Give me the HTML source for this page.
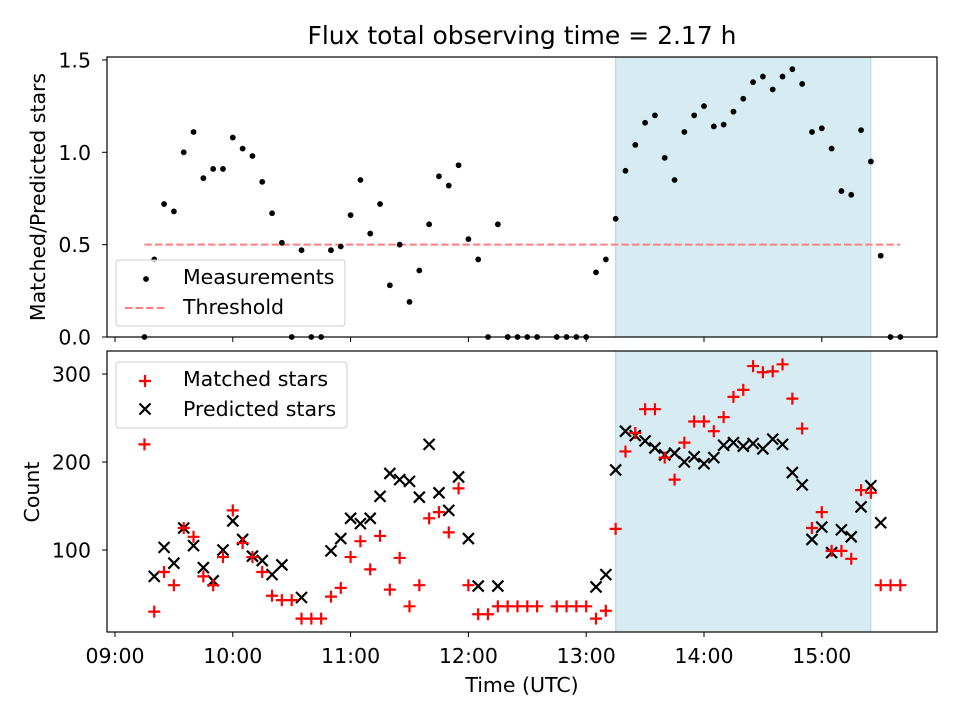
<!DOCTYPE html>
<html><head><meta charset="utf-8"><style>
body{margin:0;background:#fff;}
svg{display:block;font-family:"DejaVu Sans","Liberation Sans",sans-serif;}
</style></head><body>
<svg id="chart" width="960" height="720" viewBox="0 0 960 720">
<rect width="960" height="720" fill="#fff"/>
</svg>
<script>
const times = ["09:15","09:20","09:25","09:30","09:35","09:40","09:45","09:50","09:55","10:00","10:05","10:10","10:15","10:20","10:25","10:30","10:35","10:40","10:45","10:50","10:55","11:00","11:05","11:10","11:15","11:20","11:25","11:30","11:35","11:40","11:45","11:50","11:55","12:00","12:05","12:10","12:15","12:20","12:25","12:30","12:35","12:40","12:45","12:50","12:55","13:00","13:05","13:10","13:15","13:20","13:25","13:30","13:35","13:40","13:45","13:50","13:55","14:00","14:05","14:10","14:15","14:20","14:25","14:30","14:35","14:40","14:45","14:50","14:55","15:00","15:05","15:10","15:15","15:20","15:25","15:30","15:35","15:40"];
const ratio = [0,0.42,0.72,0.68,1.0,1.11,0.86,0.91,0.91,1.08,1.02,0.98,0.84,0.67,0.51,0,0.47,0,0,0.47,0.49,0.66,0.85,0.56,0.72,0.28,0.50,0.19,0.36,0.61,0.87,0.82,0.93,0.53,0.42,0,0.61,0,0,0,0,null,0,0,0,0,0.35,0.42,0.64,0.9,1.04,1.16,1.2,0.97,0.85,1.11,1.2,1.25,1.14,1.15,1.22,1.29,1.38,1.41,1.34,1.41,1.45,1.37,1.11,1.13,1.02,0.79,0.77,1.12,0.95,0.44,0,0];
const matched = [220,30,75,60,125,115,70,60,92,145,108,92,75,48,43,43,22,22,22,47,57,92,110,78,116,55,91,36,60,136,143,120,170,60,27,27,36,36,36,36,36,null,36,36,36,36,22,31,124,212,233,260,260,205,180,222,246,246,235,251,274,282,309,302,303,311,272,238,125,143,99,99,90,168,165,60,60,60];
const predicted = [null,70,103,85,125,105,80,65,100,133,112,93,88,72,83,null,46,null,null,99,113,136,130,136,161,187,180,178,160,220,165,145,183,113,59,null,59,null,null,null,null,null,null,null,null,null,58,72,191,235,230,224,216,208,210,200,206,198,205,219,222,218,221,215,226,220,188,174,112,126,97,123,115,149,173,131,null,null];
const threshold = 0.5;
const windowStart = "13:15", windowEnd = "15:25";
const xTicks = ["09:00","10:00","11:00","12:00","13:00","14:00","15:00"];
const ratioTicks = [0,0.5,1.0,1.5];
const countTicks = [100,200,300];

const NS="http://www.w3.org/2000/svg";
const svg=document.getElementById('chart');
const FS=20.5;
function mk(tag,attrs,parent){const e=document.createElementNS(NS,tag);for(const k in attrs)e.setAttribute(k,attrs[k]);(parent||svg).appendChild(e);return e;}
function hrs(s){const p=s.split(':');return +p[0]+ +p[1]/60;}
const X0=107,X1=937;
function xs(t){return 115+(hrs(t)-9)*117.8;}
function yTop(v){return 337-v*184.7;}
function yBot(v){return 638-v*0.88;}

let t=mk('text',{x:522,y:44,'text-anchor':'middle','font-size':25,fill:'#000'});t.textContent='Flux total observing time = 2.17 h';


function panel(top,bot,name){
  const g=mk('g',{});
  
  
  const sh=mk('rect',{x:xs(windowStart),y:top,width:xs(windowEnd)-xs(windowStart),height:bot-top,fill:'#add8e6','fill-opacity':0.5,stroke:'#add8e6','stroke-width':1},g);
  
  return g;
}
function frame(top,bot,name){
  const r=mk('rect',{x:X0,y:top,width:X1-X0,height:bot-top,fill:'none',stroke:'#000','stroke-width':1.2});
  
}
const gT=panel(57,337,'ratio-panel');
const th=mk('line',{x1:xs(times[0]),x2:xs(times[times.length-1]),y1:yTop(threshold),y2:yTop(threshold),stroke:'#ff7f7f','stroke-width':2,'stroke-dasharray':'7.4,3.2'},gT);

ratio.forEach((v,i)=>{if(v===null)return;const c=mk('circle',{cx:xs(times[i]),cy:yTop(v),r:2.9,fill:'#000'},gT);
});
frame(57,337,'ratio-axes-frame');
ratioTicks.forEach(v=>{const y=yTop(v);mk('line',{x1:X0-5,x2:X0,y1:y,y2:y,stroke:'#000'});
const l=mk('text',{x:X0-16,y:y+7.5,'text-anchor':'end','font-size':FS});l.textContent=v.toFixed(1);
});
xTicks.forEach(s=>{const x=xs(s);mk('line',{x1:x,x2:x,y1:337,y2:342,stroke:'#000'});});
t=mk('text',{transform:'translate(45,197) rotate(-90)','text-anchor':'middle','font-size':FS});t.textContent='Matched/Predicted stars';


const gB=panel(351,632,'count-panel');
predicted.forEach((v,i)=>{if(v===null)return;const x=xs(times[i]),y=yBot(v),d=5.5;
const p=mk('path',{d:`M${x-d},${y-d}L${x+d},${y+d}M${x-d},${y+d}L${x+d},${y-d}`,stroke:'#000','stroke-width':2.2},gB);
});
matched.forEach((v,i)=>{if(v===null)return;const x=xs(times[i]),y=yBot(v),d=6;
const p=mk('path',{d:`M${x-d},${y}L${x+d},${y}M${x},${y-d}L${x},${y+d}`,stroke:'#f00','stroke-width':2.2},gB);
});
frame(351,632,'count-axes-frame');
countTicks.forEach(v=>{const y=yBot(v);mk('line',{x1:X0-5,x2:X0,y1:y,y2:y,stroke:'#000'});
const l=mk('text',{x:X0-16,y:y+7.5,'text-anchor':'end','font-size':FS});l.textContent=v;
});
xTicks.forEach(s=>{const x=xs(s);mk('line',{x1:x,x2:x,y1:632,y2:637,stroke:'#000'});
const l=mk('text',{x:x,y:663,'text-anchor':'middle','font-size':FS});l.textContent=s;
});
t=mk('text',{transform:'translate(39,492) rotate(-90)','text-anchor':'middle','font-size':FS});t.textContent='Count';

t=mk('text',{x:522,y:692,'text-anchor':'middle','font-size':FS});t.textContent='Time (UTC)';


let lg=mk('g',{});
mk('rect',{x:116,y:260,width:229,height:66,rx:3,fill:'#fff','fill-opacity':0.8,stroke:'#ccc'},lg);
mk('circle',{cx:146,cy:279,r:2.9,fill:'#000'},lg);
t=mk('text',{x:183,y:284,'font-size':FS},lg);t.textContent='Measurements';
mk('line',{x1:125,x2:165,y1:308,y2:308,stroke:'#ff7f7f','stroke-width':2,'stroke-dasharray':'7.4,3.2'},lg);
t=mk('text',{x:183,y:314,'font-size':FS},lg);t.textContent='Threshold';

lg=mk('g',{});
mk('rect',{x:116,y:362,width:231,height:66,rx:3,fill:'#fff','fill-opacity':0.8,stroke:'#ccc'},lg);
mk('path',{d:'M139,381L151,381M145,375L145,387',stroke:'#f00','stroke-width':2.2},lg);
t=mk('text',{x:183,y:386,'font-size':FS},lg);t.textContent='Matched stars';
mk('path',{d:'M139.5,403.5L150.5,414.5M139.5,414.5L150.5,403.5',stroke:'#000','stroke-width':2.2},lg);
t=mk('text',{x:183,y:416,'font-size':FS},lg);t.textContent='Predicted stars';
</script>
</body></html>
